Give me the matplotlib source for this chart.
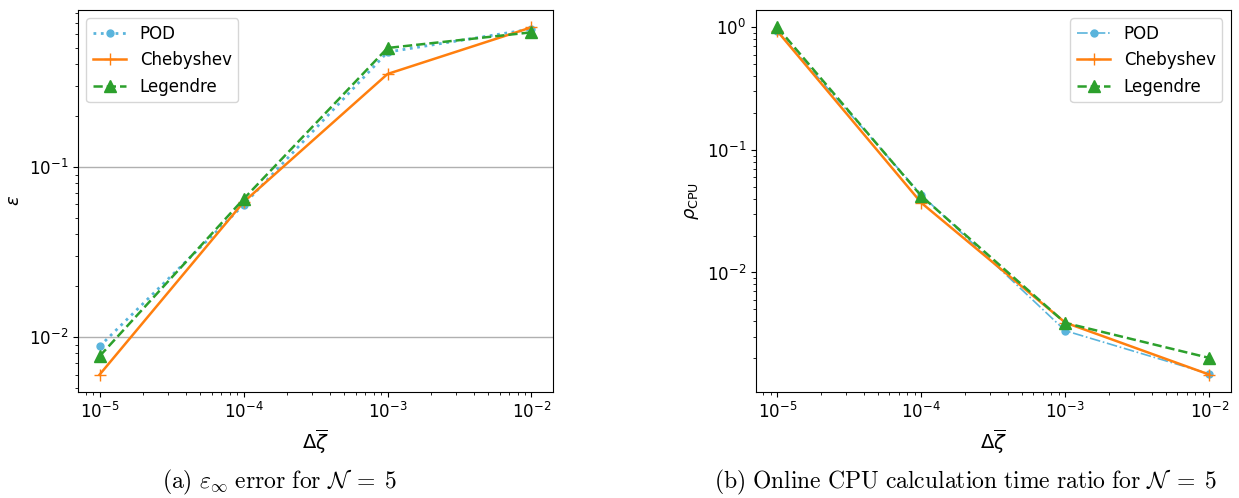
import matplotlib
matplotlib.use('Agg')
import matplotlib.pyplot as plt
import numpy as np

plt.rcParams['font.size'] = 12
plt.rcParams['mathtext.fontset'] = 'dejavusans'

# step sizes
dzeta = [1e-5, 1e-4, 1e-3, 1e-2]

# (a) epsilon_inf error
err_pod = [0.0088, 0.0597, 0.472, 0.645]
err_cheb = [0.0060, 0.0620, 0.351, 0.660]
err_leg = [0.0077, 0.0646, 0.499, 0.617]

# (b) online CPU time ratio
cpu_pod = [0.93, 0.043, 0.00335, 0.00149]
cpu_cheb = [0.93, 0.037, 0.0039, 0.00147]
cpu_leg = [1.0, 0.042, 0.00388, 0.00201]

labels = ['POD', 'Chebyshev', 'Legendre']
c_pod = '#5ab4dc'
c_cheb = '#ff7f0e'
c_leg = '#2ca02c'

fig = plt.figure(figsize=(12.39, 4.98), dpi=100)
ax1 = fig.add_axes([0.063, 0.213, 0.3834, 0.767])
ax2 = fig.add_axes([0.610, 0.213, 0.3834, 0.767])

# left panel
ax1.loglog(dzeta, err_pod, ':', marker='o', color=c_pod, lw=2, ms=5, label=labels[0])
ax1.loglog(dzeta, err_cheb, '-', marker='+', color=c_cheb, lw=1.8, ms=9, label=labels[1])
ax1.loglog(dzeta, err_leg, '--', marker='^', color=c_leg, lw=1.8, ms=8.5, label=labels[2])
ax1.grid(True, which='major', axis='y', color='#b0b0b0', lw=1)
ax1.set_ylabel(r'$\varepsilon$', fontsize=13)
ax1.set_xlabel(r'$\Delta\overline{\zeta}$', fontsize=14)
ax1.legend(loc='upper left')

# right panel
ax2.loglog(dzeta, cpu_pod, '-.', marker='o', color=c_pod, lw=1.2, ms=5, label=labels[0])
ax2.loglog(dzeta, cpu_cheb, '-', marker='+', color=c_cheb, lw=1.8, ms=9, label=labels[1])
ax2.loglog(dzeta, cpu_leg, '--', marker='^', color=c_leg, lw=1.8, ms=8.5, label=labels[2])
ax2.set_ylabel(r'$\rho_{\mathrm{CPU}}$', fontsize=13)
ax2.set_xlabel(r'$\Delta\overline{\zeta}$', fontsize=14)
ax2.legend(loc='upper right')

fig.text(0.226, 0.032, r'$\mathrm{(a)}\ \varepsilon_\infty\ \mathrm{error\ for}\ \mathcal{N}\;=\;5$',
         ha='center', va='center', fontsize=17, math_fontfamily='cm')
fig.text(0.779, 0.032, r'$\mathrm{(b)\ Online\ CPU\ calculation\ time\ ratio\ for}\ \mathcal{N}\;=\;5$',
         ha='center', va='center', fontsize=17, math_fontfamily='cm')

fig.savefig('out.png', dpi=100)
